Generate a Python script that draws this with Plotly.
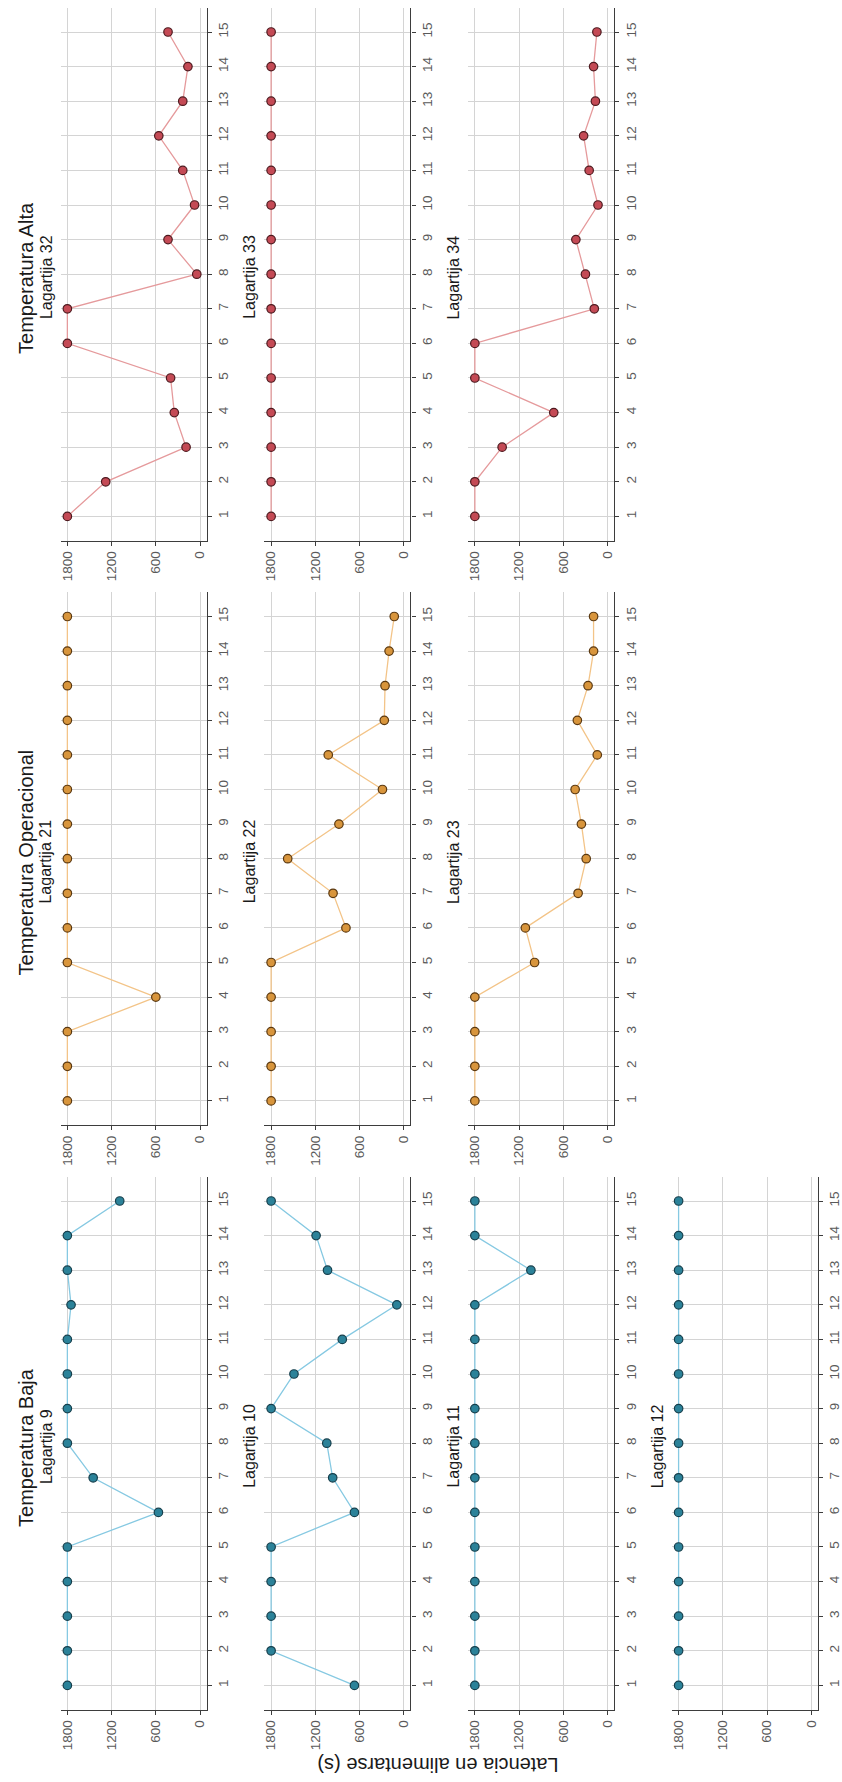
import plotly.graph_objects as go

# Días de observación (1-15)
dias = [1, 2, 3, 4, 5, 6, 7, 8, 9, 10, 11, 12, 13, 14, 15]

# Latencia en alimentarse (s) por lagartija; 1800 = no se alimentó
lagartija_9 = [1800, 1800, 1800, 1800, 1800, 565, 1450, 1800, 1800, 1800, 1800, 1750, 1800, 1800, 1090]
lagartija_10 = [670, 1800, 1800, 1800, 1800, 670, 965, 1045, 1800, 1490, 835, 95, 1035, 1190, 1800]
lagartija_11 = [1800, 1800, 1800, 1800, 1800, 1800, 1800, 1800, 1800, 1800, 1800, 1800, 1040, 1800, 1800]
lagartija_12 = [1800, 1800, 1800, 1800, 1800, 1800, 1800, 1800, 1800, 1800, 1800, 1800, 1800, 1800, 1800]

lagartija_21 = [1800, 1800, 1800, 600, 1800, 1800, 1800, 1800, 1800, 1800, 1800, 1800, 1800, 1800, 1800]
lagartija_22 = [1800, 1800, 1800, 1800, 1800, 785, 960, 1575, 880, 290, 1025, 265, 255, 200, 130]
lagartija_23 = [1800, 1800, 1800, 1800, 990, 1115, 400, 290, 355, 440, 140, 410, 265, 190, 190]

lagartija_32 = [1800, 1280, 190, 350, 400, 1800, 1800, 45, 435, 75, 235, 560, 235, 165, 435]
lagartija_33 = [1800, 1800, 1800, 1800, 1800, 1800, 1800, 1800, 1800, 1800, 1800, 1800, 1800, 1800, 1800]
lagartija_34 = [1800, 1800, 1430, 730, 1800, 1800, 180, 300, 430, 130, 250, 325, 165, 190, 145]

latencia_ticks = [0, 600, 1200, 1800]

grupos = ["Temperatura Alta", "Temperatura Operacional", "Temperatura Baja"]
series = [
    [("Lagartija 32", lagartija_32), ("Lagartija 33", lagartija_33), ("Lagartija 34", lagartija_34)],
    [("Lagartija 21", lagartija_21), ("Lagartija 22", lagartija_22), ("Lagartija 23", lagartija_23)],
    [("Lagartija 9", lagartija_9), ("Lagartija 10", lagartija_10),
     ("Lagartija 11", lagartija_11), ("Lagartija 12", lagartija_12)],
]
estilos = [
    dict(line="#e59a9c", fill="#c44a55", edge="#4d1a1f"),
    dict(line="#f3c488", fill="#d8953c", edge="#5a3810"),
    dict(line="#86c9e2", fill="#2b8299", edge="#163f4c"),
]

# Page geometry (pixels); the figure is laid out sideways
W, H = 842, 1782
PANEL_W, PANEL_H = 147.4, 532.8
COL_STEP, ROW_STEP = 205.7, 584.5
LEFT0, TOP0 = 60.3, 7.8

FONT = "Liberation Sans, Arial, sans-serif"
AXIS_COLOR = "#3d3d3d"
GRID_COLOR = "#d4d4d4"
TICK_FONT = dict(family=FONT, size=13.5, color="#5a5a5a")

fig = go.Figure()
layout_axes = {}
annotations = []
idx = 0
for g, grupo in enumerate(grupos):
    top = TOP0 + g * ROW_STEP
    for c, (nombre, valores) in enumerate(series[g]):
        idx += 1
        sfx = "" if idx == 1 else str(idx)
        left = LEFT0 + c * COL_STEP
        est = estilos[g]
        fig.add_trace(go.Scatter(
            x=valores, y=dias, mode="lines+markers",
            xaxis="x" + sfx, yaxis="y" + sfx,
            line=dict(color=est["line"], width=1.3),
            marker=dict(size=8.5, color=est["fill"], line=dict(color=est["edge"], width=1.2)),
            showlegend=False, cliponaxis=False,
        ))
        layout_axes["xaxis" + sfx] = dict(
            domain=[left / W, (left + PANEL_W) / W], anchor="y" + sfx,
            range=[1890, -90], tickvals=latencia_ticks, tickangle=-90,
            ticks="outside", ticklen=4, tickcolor=AXIS_COLOR, tickwidth=1,
            showline=True, linecolor=AXIS_COLOR, linewidth=1.3,
            showgrid=True, gridcolor=GRID_COLOR, gridwidth=1, zeroline=False,
            tickfont=TICK_FONT,
        )
        layout_axes["yaxis" + sfx] = dict(
            domain=[1 - (top + PANEL_H) / H, 1 - top / H], anchor="x" + sfx,
            side="right", range=[0.3, 15.7], tickvals=dias, tickangle=-90,
            ticks="outside", ticklen=4, tickcolor=AXIS_COLOR, tickwidth=1,
            showline=True, linecolor=AXIS_COLOR, linewidth=1.3,
            showgrid=True, gridcolor=GRID_COLOR, gridwidth=1, zeroline=False,
            tickfont=TICK_FONT,
        )
        # Strip label for each lizard
        annotations.append(dict(
            text=nombre, xref="paper", yref="paper",
            x=(left - 15) / W, y=1 - (top + PANEL_H / 2 + 3) / H,
            textangle=-90, showarrow=False, xanchor="center", yanchor="middle",
            font=dict(family=FONT, size=16, color="#1a1a1a"),
        ))
    # Group title
    annotations.append(dict(
        text=grupo, xref="paper", yref="paper",
        x=25 / W, y=1 - (top + PANEL_H / 2 + 4) / H,
        textangle=-90, showarrow=False, xanchor="center", yanchor="middle",
        font=dict(family=FONT, size=20, color="#1a1a1a"),
    ))

# Shared latency axis title
annotations.append(dict(
    text="Latencia en alimentarse (s)", xref="paper", yref="paper",
    x=441 / W, y=1 - 1765 / H, textangle=180, showarrow=False,
    xanchor="center", yanchor="middle",
    font=dict(family=FONT, size=20, color="#1a1a1a"),
))

fig.update_layout(
    width=W, height=H,
    margin=dict(l=0, r=0, t=0, b=0),
    paper_bgcolor="white", plot_bgcolor="white",
    annotations=annotations,
    **layout_axes,
)

fig.write_html("out.html")
